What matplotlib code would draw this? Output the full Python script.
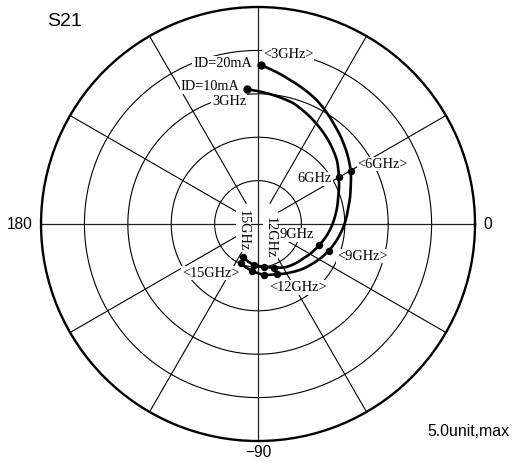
import matplotlib.pyplot as plt
import numpy as np

# S21 trace, magnitude (units) and phase (deg)
mag_20 = [3.66, 3.40, 3.16, 2.90, 2.71, 2.46, 2.30, 2.12, 1.97, 1.74,
          1.56, 1.37, 1.23, 1.18, 1.09, 0.99]
ang_20 = [89.0, 77.5, 64.7, 53.2, 43.4, 29.8, 21.9, 10.8, -1.8, -20.7,
          -35.4, -53.5, -69.5, -83.0, -96.9, -113.4]
mag_10 = [3.11, 3.02, 2.90, 2.71, 2.52, 2.34, 2.15, 1.95, 1.78, 1.63,
          1.49, 1.31, 1.19, 1.07, 0.99, 0.95, 0.83]
ang_10 = [94.5, 86.2, 73.7, 62.0, 50.1, 39.1, 30.0, 18.8, 5.4, -7.5,
          -19.0, -37.1, -56.1, -69.9, -81.6, -95.6, -115.0]

# points with a dot (3, 6, 9, 12 ... 15 GHz)
mark_20 = [0, 5, 9, 12, 13, 14, 15]
mark_10 = [0, 6, 10, 13, 14, 15, 16]

rings = [1, 2, 3, 4]
spokes = [30, 60, 120, 150, 210, 240, 300, 330]
rmax = 5.0

serif = 'Liberation Serif'
sans = 'Liberation Sans'

fig = plt.figure(figsize=(5.12, 4.65), dpi=100)
ax = fig.add_axes([0.0801, 0.0516, 0.8477, 0.9333], projection='polar')
ax.set_ylim(0, rmax)
ax.set_xticks([])
ax.set_yticks([])
ax.grid(False)
ax.spines['polar'].set_linewidth(1.7)

# grid
t = np.linspace(0, 2 * np.pi, 400)
for r in rings:
    ax.plot(t, np.full_like(t, r), color='black', lw=0.8, zorder=1)
for a in spokes:
    ax.plot([np.radians(a)] * 2, [0.55, rmax], color='black', lw=0.8, zorder=1)
for a in [0, 90, 180, 270]:
    ax.plot([np.radians(a)] * 2, [0, rmax], color='#222222', lw=0.9, zorder=1)

# curves (drawn as polar arcs between the read points)
for mag, ang, idx in [(mag_20, ang_20, mark_20), (mag_10, ang_10, mark_10)]:
    th = np.radians(ang)
    line, = ax.plot(th, mag, color='black', lw=1.9, zorder=4,
                    solid_capstyle='round', solid_joinstyle='round')
    line.get_path()._interpolation_steps = 30
    m = np.array(mag)[idx]
    a = th[idx]
    ax.plot(a[1:], m[1:], 'o', color='black', ms=4.3, zorder=5)
    ax.plot(a[:1], m[:1], 'o', color='black', ms=5.0, zorder=5)

# labels on the traces
box = dict(facecolor='white', edgecolor='none', pad=0.6)
labels = [
    ('ID=20mA', 0.418, 0.871, 0),
    ('ID=10mA', 0.389, 0.816, 0),
    ('3GHz', 0.433, 0.783, 0),
    ('<3GHz>', 0.569, 0.891, 0),
    ('6GHz', 0.631, 0.604, 0),
    ('<6GHz>', 0.787, 0.638, 0),
    ('9GHz', 0.590, 0.475, 0),
    ('<9GHz>', 0.740, 0.426, 0),
    ('<12GHz>', 0.592, 0.354, 0),
    ('<15GHz>', 0.391, 0.387, 0),
    ('12GHz', 0.528, 0.468, -90),
    ('15GHz', 0.466, 0.484, -90),
]
for s, x, y, rot in labels:
    ax.text(x, y, s, transform=ax.transAxes, ha='center', va='center',
            family=serif, fontsize=10.3, rotation=rot, bbox=box, zorder=3)

# angle labels
ax.text(1.030, 0.5, '0', transform=ax.transAxes, ha='center', va='center',
        family=sans, fontsize=11.2)
ax.text(-0.048, 0.5, '180', transform=ax.transAxes, ha='center', va='center',
        family=sans, fontsize=11.2)
ax.text(0.5, -0.026, '\u221290', transform=ax.transAxes, ha='center', va='center',
        family=sans, fontsize=11.2)
ax.text(0.5, 1.012, '90', transform=ax.transAxes, ha='center', va='bottom',
        family=sans, fontsize=11.2)

fig.text(65 / 512, 1 - 22 / 465, 'S21', ha='center', va='center',
         family=sans, fontsize=14)
fig.text(468 / 512, 1 - 431 / 465, '5.0unit,max', ha='center', va='center',
         family=sans, fontsize=11.4)

fig.savefig('out.png', dpi=100)
